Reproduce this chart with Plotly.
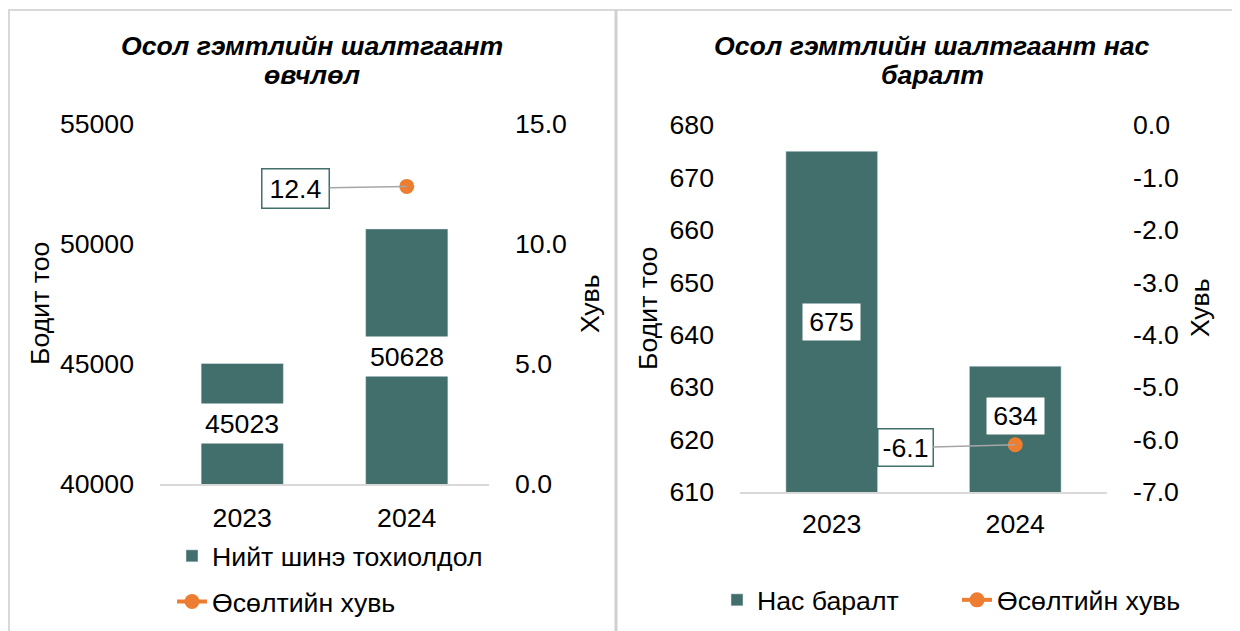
import plotly.graph_objects as go

# ---- data ----
categories = ["2023", "2024"]
cases = [45023, 50628]
cases_growth = [None, 12.4]
deaths = [675, 634]
deaths_growth = [None, -6.1]

left_ticks = [40000, 45000, 50000, 55000]
left_pct_ticks = [0, 5, 10, 15]
right_ticks = [610, 620, 630, 640, 650, 660, 670, 680]
right_pct_ticks = [0, -1, -2, -3, -4, -5, -6, -7]

left_title = ["Осол гэмтлийн шалтгаант", "өвчлөл"]
right_title = ["Осол гэмтлийн шалтгаант нас", "баралт"]
count_title = "Бодит тоо"
pct_title = "Хувь"
cases_name = "Нийт шинэ тохиолдол"
deaths_name = "Нас баралт"
growth_name = "Өсөлтийн хувь"

# ---- style ----
OFF = 8                      # page body margin
W, H = 1240 - OFF, 631 - OFF
TEAL = "#426e6b"
ORANGE = "#ed7d31"
FONT = "Liberation Sans, Arial, sans-serif"
FS = 26.67


def fx(p):
    return (p - OFF) / W


def fy(p):
    return 1 - (p - OFF) / H


fig = go.Figure()

fig.add_trace(go.Bar(x=categories, y=cases, name=cases_name, marker_color=TEAL,
                     xaxis="x", yaxis="y", legend="legend", legendgroup="a"))
fig.add_trace(go.Scatter(x=categories, y=cases_growth, name=growth_name, mode="lines+markers",
                         line=dict(color=ORANGE, width=4), marker=dict(size=15, color=ORANGE),
                         xaxis="x", yaxis="y2", legend="legend", legendgroup="b"))
fig.add_trace(go.Bar(x=categories, y=deaths, name=deaths_name, marker_color=TEAL,
                     xaxis="x2", yaxis="y3", legend="legend2"))
fig.add_trace(go.Scatter(x=categories, y=deaths_growth, name=growth_name, mode="lines+markers",
                         line=dict(color=ORANGE, width=4), marker=dict(size=15, color=ORANGE),
                         xaxis="x2", yaxis="y4", legend="legend2"))

tickfont = dict(family=FONT, size=FS, color="#000000")
xcommon = dict(type="category", range=[-0.5, len(categories) - 0.5], showgrid=False,
               showline=True, linecolor="#d9d9d9", linewidth=2,
               ticks="", tickfont=tickfont, fixedrange=True)
ycommon = dict(showgrid=False, showline=False, zeroline=False, ticks="", tickfont=tickfont,
               ticklabelstandoff=25, fixedrange=True)


def fmt1(v):
    return f"{v:.1f}"


fig.update_layout(
    width=W, height=H,
    margin=dict(l=0, r=0, t=0, b=0, autoexpand=False),
    paper_bgcolor="white", plot_bgcolor="white",
    bargap=0.5,
    font=dict(family=FONT, size=FS, color="#000000"),
    xaxis=dict(domain=[fx(160), fx(489)], anchor="y", ticklabelstandoff=9, **xcommon),
    yaxis=dict(domain=[fy(484), fy(124)], anchor="x", range=[left_ticks[0], left_ticks[-1]],
               tickvals=left_ticks, ticktext=[str(t) for t in left_ticks], **ycommon),
    yaxis2=dict(overlaying="y", side="right", anchor="x",
                range=[left_pct_ticks[0], left_pct_ticks[-1]],
                tickvals=left_pct_ticks, ticktext=[fmt1(t) for t in left_pct_ticks], **ycommon),
    xaxis2=dict(domain=[fx(740), fx(1107)], anchor="y3", ticklabelstandoff=7, **xcommon),
    yaxis3=dict(domain=[fy(492), fy(125)], anchor="x2", range=[right_ticks[0], right_ticks[-1]],
                tickvals=right_ticks, ticktext=[str(t) for t in right_ticks], **ycommon),
    yaxis4=dict(overlaying="y3", side="right", anchor="x2",
                range=[right_pct_ticks[-1], right_pct_ticks[0]],
                tickvals=right_pct_ticks, ticktext=[fmt1(t) for t in right_pct_ticks], **ycommon),
    legend=dict(x=fx(172), y=fy(532), xanchor="left", yanchor="top", orientation="v",
                font=dict(family=FONT, size=FS, color="#000000"), bgcolor="rgba(0,0,0,0)",
                traceorder="grouped", tracegroupgap=8),
    legend2=dict(x=fx(717), y=fy(576), xanchor="left", yanchor="top", orientation="h",
                 font=dict(family=FONT, size=FS, color="#000000"), bgcolor="rgba(0,0,0,0)",
                 entrywidth=195),
    showlegend=True,
)

ann = []
# titles (two lines each)
for lines, cx in [(left_title, 312), (right_title, 932)]:
    for line, cy in zip(lines, [46, 75]):
        ann.append(dict(text=line, x=fx(cx), y=fy(cy), xref="paper", yref="paper",
                        xanchor="center", yanchor="middle", showarrow=False,
                        font=dict(family=FONT, size=FS, color="#000000",
                                  weight="bold", style="italic")))
# axis titles
for txt, cx, cy in [(count_title, 40, 304), (pct_title, 590, 304),
                    (count_title, 648, 308), (pct_title, 1200, 308)]:
    ann.append(dict(text=txt, x=fx(cx), y=fy(cy), xref="paper", yref="paper", textangle=-90,
                    xanchor="center", yanchor="middle", showarrow=False,
                    font=dict(family=FONT, size=FS, color="#000000")))

# bar value labels (white boxes at bar middle)
left_base = left_ticks[0]
for i, v in enumerate(cases):
    ann.append(dict(text=str(v), x=i, y=(left_base + v) / 2, xref="x", yref="y", showarrow=False,
                    bgcolor="white", borderpad=4, width=78, height=31,
                    font=dict(family=FONT, size=FS, color="#000000")))
right_base = right_ticks[0]
for i, (v, shift) in enumerate(zip(deaths, [0, 13])):
    ann.append(dict(text=str(v), x=i, y=(right_base + v) / 2, xref="x2", yref="y3", showarrow=False,
                    yshift=shift, bgcolor="white", borderpad=4, width=49, height=28,
                    font=dict(family=FONT, size=FS, color="#000000")))

# growth labels with leader lines
for i, v in enumerate(cases_growth):
    if v is None:
        continue
    ann.append(dict(text=fmt1(v), x=i, y=v, xref="x", yref="y2", showarrow=True, arrowhead=0,
                    arrowwidth=1.5, arrowcolor="#a6a6a6", ax=-111, ay=2, standoff=0,
                    bgcolor="white", bordercolor=TEAL, borderwidth=1.5, borderpad=4,
                    width=58, height=30,
                    font=dict(family=FONT, size=FS, color="#000000")))
for i, v in enumerate(deaths_growth):
    if v is None:
        continue
    ann.append(dict(text=fmt1(v), x=i, y=v, xref="x2", yref="y4", showarrow=True, arrowhead=0,
                    arrowwidth=1.5, arrowcolor="#a6a6a6", ax=-110, ay=3, standoff=0,
                    bgcolor="white", bordercolor=TEAL, borderwidth=1.5, borderpad=4,
                    width=46, height=28,
                    font=dict(family=FONT, size=FS, color="#000000")))

fig.update_layout(annotations=ann)

# frame
fig.add_shape(type="rect", xref="paper", yref="paper", x0=fx(9), x1=fx(1260), y0=fy(660), y1=fy(10),
              line=dict(color="#d9d9d9", width=2), layer="below")
fig.add_shape(type="line", xref="paper", yref="paper", x0=fx(616), x1=fx(616), y0=fy(660), y1=fy(10),
              line=dict(color="#d0d0d0", width=3), layer="below")

fig.write_html("out.html")
